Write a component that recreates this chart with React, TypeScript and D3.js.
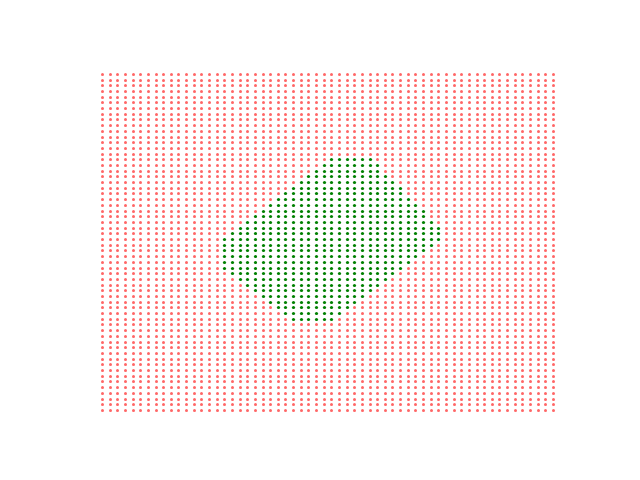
import React from "react";
import * as d3 from "d3";

// 60 x 60 grid of sample points (index coordinates)
const GRID_N = 60;
const gridX: number[] = d3.range(GRID_N);
const gridY: number[] = d3.range(GRID_N);

// polygon used to classify the grid points (x, y in grid coordinates, y up)
const polyX: number[] = [30.0, 35.1, 44.4, 44.4, 30.0, 25.0, 15.6, 15.6];
const polyY: number[] = [44.4, 44.4, 32.0, 30.0, 15.6, 15.6, 25.0, 30.0];

const W = 640;
const H = 480;
// matplotlib default axes box
const AX_L = 80, AX_R = 576, AX_T = 57.6, AX_B = 427.2;

export default function App() {
  const polygon: [number, number][] = polyX.map((x, i) => [x, polyY[i]]);
  const padX = (AX_R - AX_L) / 1.1 * 0.05;
  const padY = (AX_B - AX_T) / 1.1 * 0.05;
  const x = d3.scaleLinear().domain([d3.min(gridX)!, d3.max(gridX)!]).range([AX_L + padX, AX_R - padX]);
  const y = d3.scaleLinear().domain([d3.min(gridY)!, d3.max(gridY)!]).range([AX_B - padY, AX_T + padY]);

  const pts: { x: number; y: number; inside: boolean }[] = [];
  for (const gx of gridX) {
    for (const gy of gridY) {
      pts.push({ x: gx, y: gy, inside: d3.polygonContains(polygon, [gx, gy]) });
    }
  }
  const outside = pts.filter((p) => !p.inside);
  const inside = pts.filter((p) => p.inside);
  const snap = (v: number) => Math.round(v - 0.5) + 0.5;

  return (
    <svg width={W} height={H} style={{ position: "absolute", left: 0, top: 0, background: "#fff" }}>
      <g>
        {outside.map((p, i) => (
          <circle key={"o" + i} cx={snap(x(p.x))} cy={snap(y(p.y))} r={1.5} fill="#ff0000" fillOpacity={0.6} />
        ))}
      </g>
      <g>
        {inside.map((p, i) => (
          <circle key={"i" + i} cx={snap(x(p.x))} cy={snap(y(p.y))} r={1.6} fill="#008000" />
        ))}
      </g>
    </svg>
  );
}
